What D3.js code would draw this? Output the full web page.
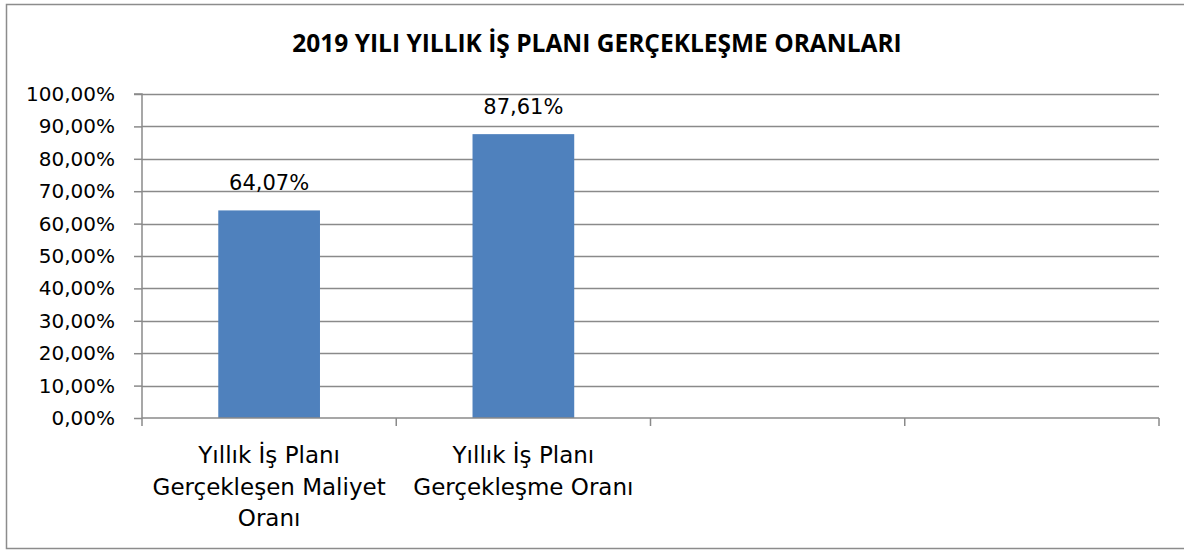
<!DOCTYPE html>
<html>
<head>
<meta charset="utf-8">
<script src="https://cdn.jsdelivr.net/npm/d3@7"></script>
<style>
  body { margin: 0; background: #fff; }
  text { font-family: "DejaVu Sans", sans-serif; fill: #000; }
</style>
</head>
<body>
<div id="chart"></div>
<script>
// chart data
var title = "2019 YILI YILLIK İŞ PLANI GERÇEKLEŞME ORANLARI";
var categories = ["c1", "c2", "c3", "c4"];
var categoryLines = [
  ["Yıllık İş Planı", "Gerçekleşen Maliyet", "Oranı"],
  ["Yıllık İş Planı", "Gerçekleşme Oranı"],
  [],
  []
];
var values = [0.6407, 0.8761, null, null];
var yTicks = [0, 0.1, 0.2, 0.3, 0.4, 0.5, 0.6, 0.7, 0.8, 0.9, 1.0];

var W = 1184, H = 550;
var margin = {top: 94, right: 25, bottom: 132, left: 142},
  width = W - margin.left - margin.right,
  height = H - margin.top - margin.bottom;

var pct = function(v) { return (v * 100).toFixed(2).replace(".", ",") + "%"; };

var svg = d3.select("#chart").append("svg")
  .attr("width", W)
  .attr("height", H);

// outer frame
svg.append("rect")
  .attr("x", 6.5).attr("y", 4.5)
  .attr("width", W + 10).attr("height", 544)
  .attr("fill", "none")
  .attr("stroke", "#8c8c8c")
  .attr("stroke-width", 1.5);

svg.append("text")
  .attr("x", 597)
  .attr("y", 52)
  .attr("text-anchor", "middle")
  .style("font-family", "'Open Sans', sans-serif")
  .style("font-size", "24.5px")
  .style("font-weight", "bold")
  .text(title);

var g = svg.append("g")
  .attr("transform", "translate(" + margin.left + "," + margin.top + ")");

var x = d3.scaleBand()
  .domain(categories)
  .range([0, width])
  .padding(0);

var y = d3.scaleLinear()
  .domain([0, 1])
  .range([height, 0]);

// gridlines
g.append("g")
  .selectAll("line")
  .data(yTicks.slice(1))
  .enter().append("line")
  .attr("x1", 0).attr("x2", width)
  .attr("y1", function(d) { return Math.round(y(d)) + 0.5; })
  .attr("y2", function(d) { return Math.round(y(d)) + 0.5; })
  .attr("stroke", "#8a8a8a")
  .attr("stroke-width", 1.5);

// bars
var barW = x.bandwidth() * 0.4;
var barData = values.map(function(v, i) { return {c: categories[i], v: v}; })
  .filter(function(d) { return d.v != null; });

g.selectAll("rect.bar")
  .data(barData)
  .enter().append("rect")
  .attr("class", "bar")
  .attr("x", function(d) { return x(d.c) + (x.bandwidth() - barW) / 2; })
  .attr("width", barW)
  .attr("y", function(d) { return y(d.v); })
  .attr("height", function(d) { return height - y(d.v); })
  .attr("fill", "#4f81bd");

// data labels
g.selectAll("text.lbl")
  .data(barData)
  .enter().append("text")
  .attr("class", "lbl")
  .attr("x", function(d) { return x(d.c) + x.bandwidth() / 2; })
  .attr("y", function(d) { return y(d.v) - 20; })
  .attr("text-anchor", "middle")
  .style("font-size", "21px")
  .text(function(d) { return pct(d.v); });

// y axis
var yAxis = g.append("g")
  .call(d3.axisLeft(y).tickValues(yTicks).tickFormat(pct).tickSize(8).tickPadding(19));
yAxis.selectAll("text").style("font-size", "20px").attr("font-family", null);
yAxis.selectAll("line, path").attr("stroke", "#8a8a8a").attr("stroke-width", 1.5);
yAxis.select("path").attr("d", "M-8," + y(1) + "H0V" + height);

// x axis with ticks at band edges
var xAxis = g.append("g")
  .attr("transform", "translate(0," + height + ")");
xAxis.append("line")
  .attr("x1", 0).attr("x2", width)
  .attr("y1", 0).attr("y2", 0)
  .attr("stroke", "#8a8a8a").attr("stroke-width", 1.5);
xAxis.selectAll("line.tk")
  .data(categories.concat(["end"]))
  .enter().append("line")
  .attr("class", "tk")
  .attr("x1", function(d, i) { return i * x.step(); })
  .attr("x2", function(d, i) { return i * x.step(); })
  .attr("y1", 0).attr("y2", 8)
  .attr("stroke", "#8a8a8a").attr("stroke-width", 1.5);

xAxis.selectAll("text.cat")
  .data(categories)
  .enter().append("text")
  .attr("class", "cat")
  .attr("text-anchor", "middle")
  .attr("transform", function(d) { return "translate(" + (x(d) + x.bandwidth() / 2) + ",0)"; })
  .style("font-size", "23px")
  .each(function(d, i) {
    var t = d3.select(this);
    categoryLines[i].forEach(function(line, j) {
      t.append("tspan").attr("x", 0).attr("y", 45 + j * 31.7).text(line);
    });
  });
</script>
</body>
</html>
